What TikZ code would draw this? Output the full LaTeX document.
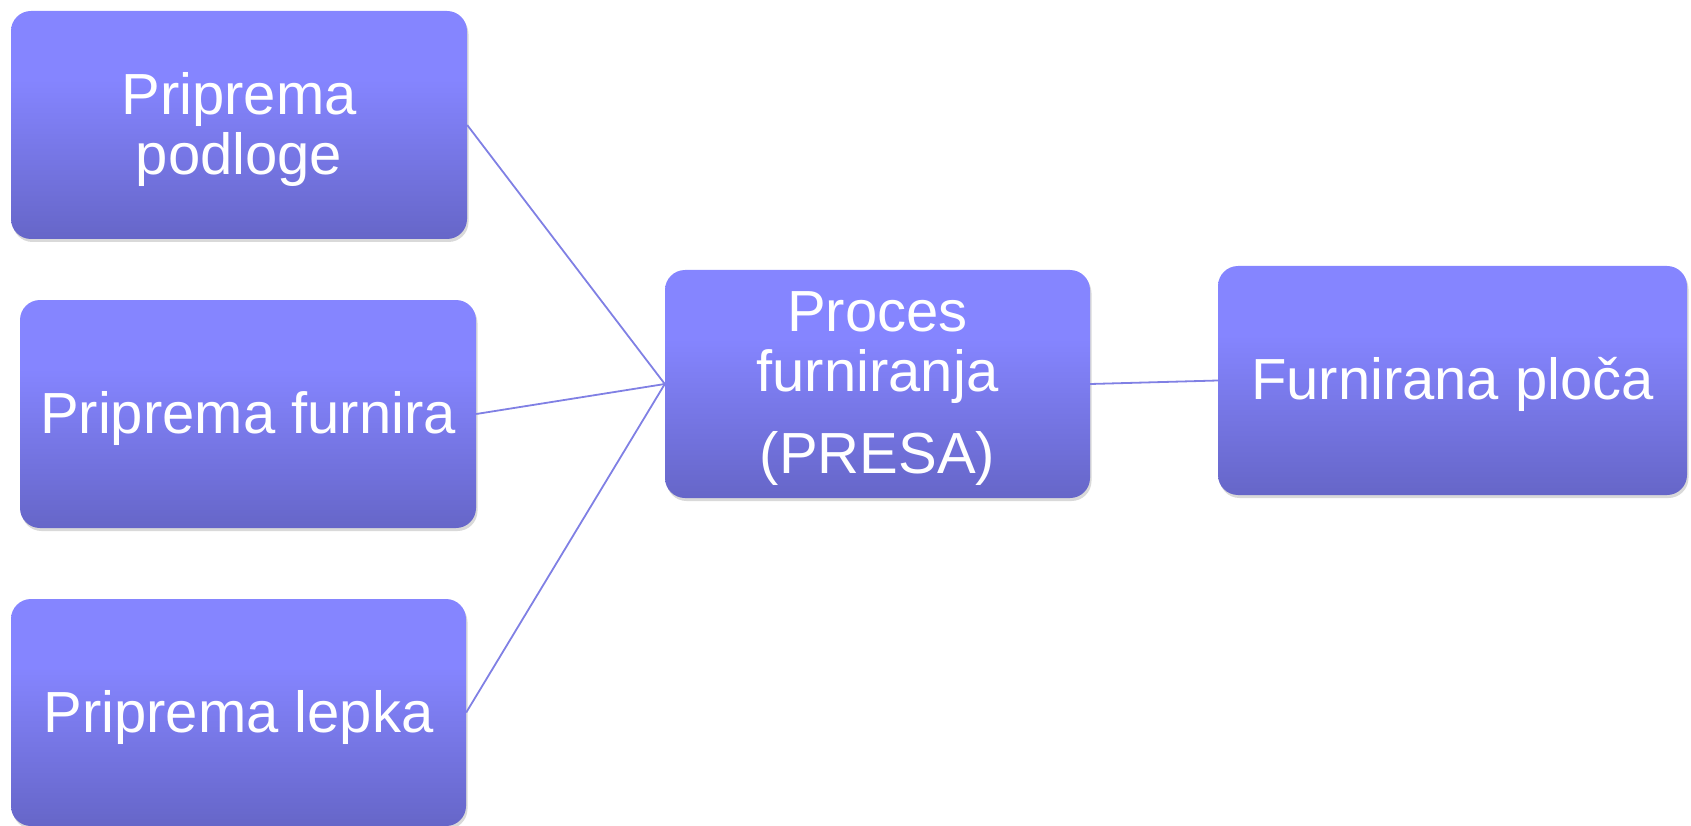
\documentclass[tikz,border=0pt]{standalone}
\usepackage{fontspec}
\setmainfont{Liberation Sans}
\usetikzlibrary{shadows}
\definecolor{boxtop}{RGB}{133,133,255}
\definecolor{boxbot}{RGB}{102,102,200}
\definecolor{linkcol}{RGB}{128,128,228}
\pgfdeclareverticalshading{boxshade}{100bp}{color(0bp)=(boxbot); color(25bp)=(boxbot); color(60bp)=(boxtop); color(75bp)=(boxtop); color(100bp)=(boxtop)}
\tikzset{
  procbox/.style={rectangle, rounded corners=20pt, inner sep=0pt, shading=boxshade,
    draw=none,
    drop shadow={shadow xshift=1.5pt, shadow yshift=-3pt, opacity=0.25, fill=black!60}},
  boxtext/.style={inner sep=0pt, text=white, align=center,
    font=\fontsize{58}{60}\selectfont},
  link/.style={draw=linkcol, line width=1.8pt}
}
\begin{document}
\begin{tikzpicture}[x=1pt,y=-1pt]
\useasboundingbox (0,0) rectangle (1691,826);
\node[procbox, minimum width=456pt, minimum height=228pt] (b1) at (239,125) {};
\node[procbox, minimum width=456pt, minimum height=228pt] (b2) at (248,414) {};
\node[procbox, minimum width=455pt, minimum height=227pt] (b3) at (238.5,712.5) {};
\node[procbox, minimum width=425pt, minimum height=228pt] (c) at (877.5,384) {};
\node[procbox, minimum width=469pt, minimum height=229pt] (f) at (1452.5,380.5) {};
\node[boxtext] (b1t) at ([yshift=-5pt]b1.center) {Priprema\\podloge};
\node[boxtext] (b2t) at ([yshift=-5pt]b2.center) {Priprema furnira};
\node[boxtext] (b3t) at ([yshift=-5pt]b3.center) {Priprema lepka};
\node[boxtext] (ct) at ([yshift=-5pt]c.center) {Proces\\furniranja\\[22pt](PRESA)};
\node[boxtext] (ft) at ([yshift=-4pt]f.center) {Furnirana ploča};
\draw[link] (b1.east) -- (c.west);
\draw[link] (b2.east) -- (c.west);
\draw[link] (b3.east) -- (c.west);
\draw[link] (c.east) -- (f.west);
\end{tikzpicture}
\end{document}
